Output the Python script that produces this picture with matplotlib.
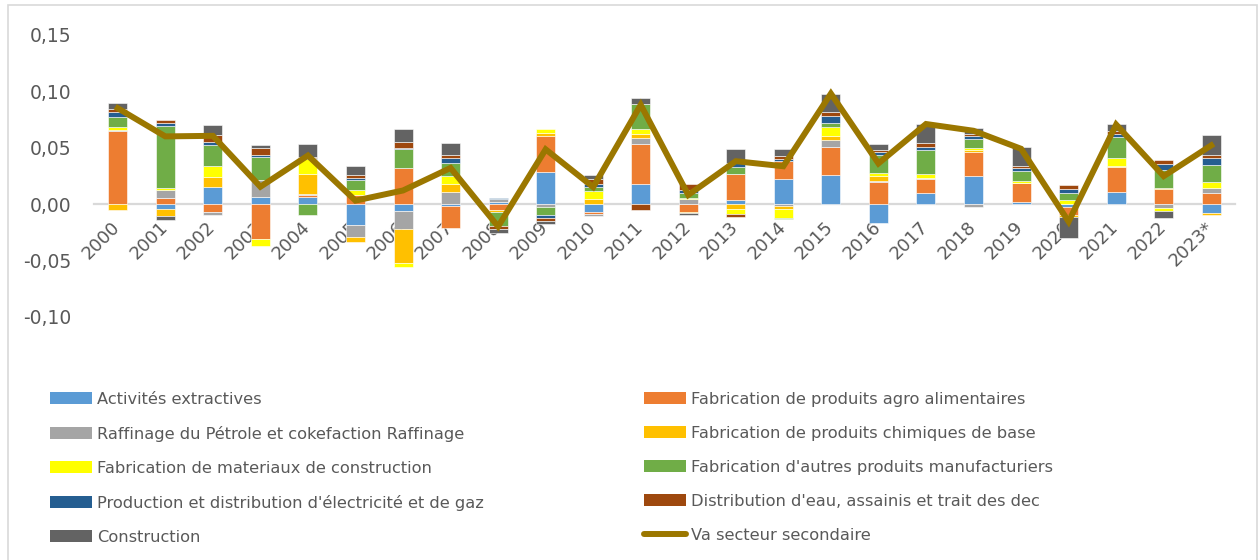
import numpy as np
import matplotlib
matplotlib.use('Agg')
import matplotlib.pyplot as plt
from matplotlib.patches import Patch, Rectangle
from matplotlib.lines import Line2D
from matplotlib.ticker import FuncFormatter
from matplotlib.transforms import ScaledTranslation

years = ['2000', '2001', '2002', '2003', '2004', '2005', '2006', '2007', '2008', '2009',
         '2010', '2011', '2012', '2013', '2014', '2015', '2016', '2017', '2018', '2019',
         '2020', '2021', '2022', '2023*']

ext = [0, -0.0045, 0.015, 0.0065, 0.006, -0.019, -0.0065, -0.002, 0.002, 0.028,
       -0.0075, 0.018, 0, 0.0035, 0.0218, 0.0256, -0.0165, 0.0094, 0.025, 0.002,
       -0.0025, 0.011, 0, -0.008]
agro = [0.065, 0.005, -0.0075, -0.031, 0.002, 0.008, 0.032, -0.0195, -0.005, 0.032,
        -0.0015, 0.0356, -0.0075, 0.023, 0.0165, 0.025, 0.0197, 0.0124, 0.0212, 0.0168,
        -0.007, 0.0215, 0.013, 0.010]
raf = [0.001, 0.0075, -0.0025, 0.015, 0.001, -0.010, -0.0155, 0.0106, 0.002, -0.003,
       -0.0015, 0.0053, 0.0045, 0, -0.002, 0.006, 0.001, 0.001, -0.0025, 0,
       0, 0, -0.0035, 0.0044]
chim = [-0.005, -0.0065, 0.009, 0, 0.0175, -0.0047, -0.030, 0.007, -0.002, 0.0026,
        0.004, 0.003, -0.0007, -0.0045, -0.0025, 0.004, 0.004, 0, 0.0015, 0,
        -0.002, 0.001, 0.0015, -0.0015]
mat = [0.002, 0.002, 0.010, -0.006, 0.013, 0.004, -0.004, 0.007, 0, 0.004,
       0.0075, 0.0045, 0.001, -0.0045, -0.008, 0.0074, 0.003, 0.0038, 0.002, 0.0015,
       0.0035, 0.007, -0.0024, 0.0053]
autres = [0.009, 0.055, 0.0185, 0.020, -0.010, 0.009, 0.017, 0.012, -0.0125, -0.007,
          0.004, 0.0226, 0.004, 0.006, -0.001, 0.0035, 0.016, 0.0215, 0.0076, 0.0088,
          0.006, 0.019, 0.016, 0.0153]
elec = [0.0045, 0.002, 0.0026, 0.0024, 0.0015, 0.0025, 0.001, 0.0045, 0.0015, -0.002,
        0.002, 0, 0.003, 0.004, 0.0015, 0.0068, 0.0024, 0.0026, 0.003, 0.003,
        0.004, 0.003, 0.0053, 0.0059]
eau = [0.0025, 0.003, 0.006, 0.0056, 0.0005, 0.0025, 0.005, 0.0026, -0.0025, -0.003,
       0.005, -0.005, 0.0053, -0.0025, 0.0026, 0.003, 0.0018, 0.003, 0.0015, 0.0015,
       0.003, 0.0024, 0.003, 0.003]
constr = [0.006, -0.003, 0.0094, 0.003, 0.0115, 0.0075, 0.012, 0.010, -0.0035, -0.0025,
          0.0035, 0.0053, -0.0012, 0.0125, 0.006, 0.016, 0.005, 0.0176, 0.006, 0.017,
          -0.019, 0.0065, -0.0068, 0.0176]
va = [0.085, 0.060, 0.0605, 0.0153, 0.043, 0.003, 0.012, 0.032, -0.020, 0.0485,
      0.015, 0.088, 0.008, 0.038, 0.0335, 0.098, 0.036, 0.071, 0.065, 0.049,
      -0.0156, 0.0705, 0.0247, 0.052]

series = [
    ("Activités extractives", ext, '#5B9BD5'),
    ("Fabrication de produits agro alimentaires", agro, '#ED7D31'),
    ("Raffinage du Pétrole et cokefaction Raffinage", raf, '#A5A5A5'),
    ("Fabrication de produits chimiques de base", chim, '#FFC000'),
    ("Fabrication de materiaux de construction", mat, '#FFFF00'),
    ("Fabrication d'autres produits manufacturiers", autres, '#70AD47'),
    ("Production et distribution d'électricité et de gaz", elec, '#255E91'),
    ("Distribution d'eau, assainis et trait des dec", eau, '#9E480E'),
    ("Construction", constr, '#636363'),
]
line_color = '#9B7700'
text_color = '#595959'

plt.rcParams['font.family'] = ['DejaVu Sans']

fig = plt.figure(figsize=(12.6, 5.6), dpi=100)
ax = fig.add_axes([94 / 1260, 1 - 340 / 560, (1235 - 94) / 1260, 320 / 560])

x = np.arange(len(years))
pos = np.zeros(len(years))
neg = np.zeros(len(years))
for name, vals, col in series:
    v = np.array(vals)
    bottom = np.where(v >= 0, pos, neg)
    ax.bar(x, v, width=0.4, bottom=bottom, color=col, edgecolor='white',
           linewidth=0.4, zorder=3)
    pos = pos + np.where(v >= 0, v, 0)
    neg = neg + np.where(v < 0, v, 0)

ax.plot(x, va, color=line_color, linewidth=4.3, solid_joinstyle='miter', zorder=4)

ax.set_xlim(-0.5, len(years) - 0.5)
ax.set_ylim(-0.1207, 0.1633)
ax.set_yticks([-0.10, -0.05, 0, 0.05, 0.10, 0.15])
ax.yaxis.set_major_formatter(FuncFormatter(lambda v, p: ('%.2f' % (0 if abs(v) < 1e-9 else v)).replace('.', ',')))

for s in ['top', 'right', 'left']:
    ax.spines[s].set_visible(False)
ax.spines['bottom'].set_position(('data', 0))
ax.spines['bottom'].set_color('#D9D9D9')
ax.spines['bottom'].set_linewidth(1.6)
ax.spines['bottom'].set_zorder(2)

ax.set_xticks(x)
ax.set_xticklabels(years, rotation=45, ha='right', va='top')
ax.tick_params(axis='x', length=0, pad=3, labelsize=13, labelcolor=text_color)
ax.tick_params(axis='y', length=0, pad=16, labelsize=13.5, labelcolor=text_color)
shift = ScaledTranslation(6 / 100, -10 / 100, fig.dpi_scale_trans)
for lab in ax.get_xticklabels():
    lab.set_transform(lab.get_transform() + shift)

# legend, Excel style: two columns filled row by row
fs = 11.7
handles1 = []
labels1 = []
handles2 = []
labels2 = []
for i, (name, vals, col) in enumerate(series):
    h = Patch(facecolor=col, edgecolor='none')
    if i % 2 == 0:
        handles1.append(h)
        labels1.append(name)
    else:
        handles2.append(h)
        labels2.append(name)
handles2.append(Line2D([0], [0], color=line_color, linewidth=4.3, solid_capstyle='round'))
labels2.append("Va secteur secondaire")

for hs, ls, x0 in [(handles1, labels1, 50), (handles2, labels2, 644)]:
    leg = fig.legend(hs, ls, loc='upper left', bbox_to_anchor=(x0 / 1260, 1 - 392 / 560),
                     frameon=False, fontsize=fs, handlelength=2.6, handleheight=0.75,
                     handletextpad=0.3, labelspacing=1.17, borderpad=0, borderaxespad=0)
    for t in leg.get_texts():
        t.set_color(text_color)

fig.patches.append(Rectangle((8 / 1260, -0.1), 1249 / 1260, 1.1 - 5 / 560,
                             transform=fig.transFigure, fill=False,
                             edgecolor='#D9D9D9', linewidth=1.2))

fig.savefig('out.png', dpi=100, facecolor='white')
